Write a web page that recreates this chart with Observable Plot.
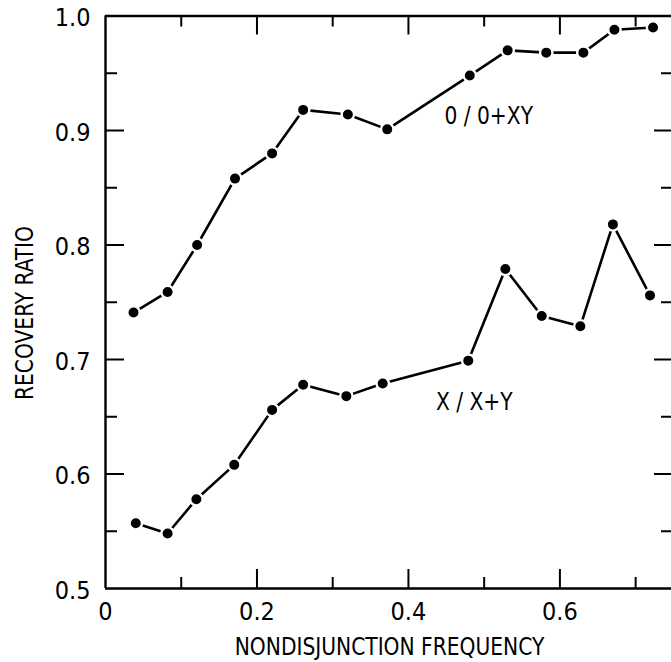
<!DOCTYPE html>
<html>
<head>
<meta charset="utf-8">
<script src="https://cdn.jsdelivr.net/npm/d3@7"></script>
<script src="https://cdn.jsdelivr.net/npm/@observablehq/plot@0.6"></script>
<style>
  html, body { margin: 0; padding: 0; background: #fff; }
  #chart { width: 671px; height: 662px; }
</style>
</head>
<body>
<div id="chart"></div>
<script>
// ---- data ----
const upperLabel = "0 / 0+XY";
const lowerLabel = "X / X+Y";
const xUpper = [0.037, 0.082, 0.121, 0.171, 0.220, 0.261, 0.320, 0.372, 0.481, 0.531, 0.582, 0.631, 0.672, 0.723];
const yUpper = [0.741, 0.759, 0.800, 0.858, 0.880, 0.918, 0.914, 0.901, 0.948, 0.970, 0.968, 0.968, 0.988, 0.990];
const xLower = [0.040, 0.082, 0.120, 0.170, 0.220, 0.261, 0.318, 0.366, 0.479, 0.528, 0.576, 0.627, 0.670, 0.719];
const yLower = [0.557, 0.548, 0.578, 0.608, 0.656, 0.678, 0.668, 0.679, 0.699, 0.779, 0.738, 0.729, 0.818, 0.756];
const xTickLabels = [0, 0.2, 0.4, 0.6];
const xMajorTicks = [0.2, 0.4, 0.6];
const xMinorTicks = [0.1, 0.3, 0.5, 0.7];
const yTickLabels = [0.5, 0.6, 0.7, 0.8, 0.9, 1.0];
const yMajorTicks = [0.6, 0.7, 0.8, 0.9];
const yMinorTicks = [0.55, 0.65, 0.75, 0.85, 0.95];
const xTitle = "NONDISJUNCTION FREQUENCY";
const yTitle = "RECOVERY RATIO";

// ---- layout ----
const xDomain = [0, 0.75], xRange = [105, 673];
const yDomain = [0.5, 1.0], yRange = [588, 15.5];
const dxPerPx = (xDomain[1] - xDomain[0]) / (xRange[1] - xRange[0]);
const dyPerPx = (yDomain[1] - yDomain[0]) / (yRange[0] - yRange[1]);
const font = "'Liberation Sans Narrow', 'DejaVu Sans Condensed', 'Arial Narrow', sans-serif";
const fs = 25;

const upper = xUpper.map((x, i) => ({x, y: yUpper[i]}));
const lower = xLower.map((x, i) => ({x, y: yLower[i]}));

const tickX = (ticks, lenPx) => [
  Plot.ruleX(ticks, {x: d => d, y1: yDomain[0], y2: yDomain[0] + lenPx * dyPerPx, stroke: "#000", strokeWidth: 2}),
  Plot.ruleX(ticks, {x: d => d, y1: yDomain[1], y2: yDomain[1] - lenPx * dyPerPx, stroke: "#000", strokeWidth: 2})
];
const tickY = (ticks, lenPx) => [
  Plot.ruleY(ticks, {y: d => d, x1: xDomain[0], x2: xDomain[0] + lenPx * dxPerPx, stroke: "#000", strokeWidth: 2}),
  Plot.ruleY(ticks, {y: d => d, x1: xDomain[1], x2: xDomain[1] - lenPx * dxPerPx, stroke: "#000", strokeWidth: 2})
];

const series = (data) => [
  Plot.line(data, {x: "x", y: "y", stroke: "#000", strokeWidth: 2.6}),
  Plot.dot(data, {x: "x", y: "y", r: 6.2, fill: "#000", stroke: "#fff", strokeWidth: 2.4})
];

const chart = Plot.plot({
  width: 671,
  height: 662,
  marginLeft: 105, marginRight: 0, marginTop: 15, marginBottom: 74,
  style: {background: "#fff", color: "#000", fontFamily: font},
  x: {domain: xDomain, range: xRange, axis: null},
  y: {domain: yDomain, range: yRange, axis: null},
  marks: [
    // frame
    Plot.ruleY([yDomain[0], yDomain[1]], {x1: xDomain[0], x2: xDomain[1], stroke: "#000", strokeWidth: 2.4}),
    Plot.ruleX([xDomain[0], xDomain[1]], {y1: yDomain[0], y2: yDomain[1], stroke: "#000", strokeWidth: 2.4}),
    // ticks (inward)
    ...tickX(xMajorTicks, 19),
    ...tickX(xMinorTicks, 11),
    ...tickY(yMajorTicks, 19),
    ...tickY(yMinorTicks, 12),
    // tick labels
    Plot.text(xTickLabels, {x: d => d, y: yDomain[0], dy: 23, text: d => d === 0 ? "0" : d.toFixed(1),
      fontSize: fs, fill: "#000", lineAnchor: "middle"}),
    Plot.text(yTickLabels, {y: d => d, x: xDomain[0], dx: -15, dy: 2, text: d => d.toFixed(1),
      fontSize: fs, fill: "#000", textAnchor: "end", lineAnchor: "middle"}),
    // axis titles
    Plot.text([xTitle], {frameAnchor: "bottom", x: () => (xDomain[0] + xDomain[1]) / 2, dy: 58, text: d => d,
      fontSize: fs, fill: "#000", lineAnchor: "middle"}),
    Plot.text([yTitle], {frameAnchor: "left", dx: -81, dy: 11, rotate: -90, text: d => d,
      fontSize: fs, fill: "#000", textAnchor: "middle", lineAnchor: "middle"}),
    // series
    ...series(upper),
    ...series(lower),
    // series labels
    Plot.text([upperLabel], {x: () => 0.506, y: () => 0.913, text: d => d, fontSize: fs, fill: "#000", lineAnchor: "middle"}),
    Plot.text([lowerLabel], {x: () => 0.487, y: () => 0.663, text: d => d, fontSize: fs, fill: "#000", lineAnchor: "middle"})
  ]
});

// condense the capital lettering horizontally, like the reference's narrow typeface
d3.select(chart).selectAll("text").each(function () {
  if (!/[A-Z]/.test(this.textContent)) return;
  const t = this.getAttribute("transform") || "";
  this.setAttribute("transform", (t + " scale(0.9,1)").trim());
});

document.getElementById("chart").append(chart);
</script>
</body>
</html>
